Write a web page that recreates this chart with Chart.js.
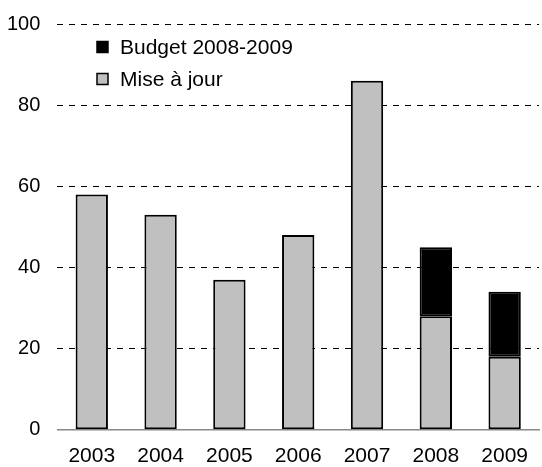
<!DOCTYPE html>
<html>
<head>
<meta charset="utf-8">
<script src="https://cdn.jsdelivr.net/npm/chart.js@4"></script>
<style>
  html, body { margin: 0; padding: 0; background: #fff; }
  #wrap { width: 542px; height: 467px; }
</style>
</head>
<body>
<div id="wrap"><canvas id="myChart" width="542" height="467"></canvas></div>
<script>
// donnees
var annees = ['2003', '2004', '2005', '2006', '2007', '2008', '2009'];
var miseAJour = [58, 53, 37, 48, 86, 28, 18];
var budget = [null, null, null, null, null, 17, 16];
var ticksY = [0, 20, 40, 60, 80, 100];

var police = '"Liberation Sans", Arial, sans-serif';

// legende dessinee dans la zone du graphique, en haut a gauche
var legendeInterne = {
    id: 'legendeInterne',
    afterDraw: function(chart){
        var ctx = chart.ctx;
        var ds = chart.data.datasets.slice().reverse();
        var x = 97;
        var y = 47;
        ctx.save();
        ctx.font = '21px ' + police;
        ctx.textBaseline = 'middle';
        ds.forEach(function(d, i){
            var yy = y + i * 32;
            ctx.fillStyle = d.backgroundColor;
            ctx.fillRect(x, yy - 5.5, 11, 11);
            ctx.strokeStyle = '#000';
            ctx.lineWidth = 1.5;
            ctx.strokeRect(x, yy - 5.5, 11, 11);
            ctx.fillStyle = '#000';
            ctx.fillText(d.label, x + 23, yy + 1);
        });
        ctx.restore();
    }
};

var ctx1 = document.getElementById('myChart').getContext('2d');
const myChart = new Chart(ctx1, {
    type: 'bar',
    data: {
        labels: annees,
        datasets: [{
            label: 'Mise à jour',
            data: miseAJour,
            backgroundColor: '#c0c0c0',
            borderColor: '#000',
            borderWidth: 2,
            borderSkipped: false
        }, {
            label: 'Budget 2008-2009',
            data: budget,
            backgroundColor: '#000',
            borderColor: '#000',
            borderWidth: 2,
            borderSkipped: false
        }]
    },
    options: {
        responsive: false,
        animation: false,
        barPercentage: 0.47,
        categoryPercentage: 1,
        layout: { padding: { top: 24, left: -10, right: -6, bottom: -16 } },
        plugins: {
            legend: { display: false },
            tooltip: { enabled: false }
        },
        scales: {
            x: {
                stacked: true,
                grid: { display: false, drawTicks: false },
                border: { display: true, color: '#888', width: 1.5 },
                ticks: { color: '#000', font: { family: police, size: 21 }, padding: 14, maxRotation: 0 }
            },
            y: {
                stacked: true,
                min: 0,
                max: 100,
                afterBuildTicks: function(axis){
                    axis.ticks = ticksY.map(function(v){ return { value: v }; });
                },
                afterFit: function(axis){
                    axis.paddingTop = 0;
                },
                grid: {
                    drawTicks: false,
                    color: function(c){ return c.tick.value === 0 ? 'rgba(0,0,0,0)' : '#000'; },
                    lineWidth: 1
                },
                border: { display: false, dash: [6, 6] },
                ticks: { color: '#000', font: { family: police, size: 20 }, padding: 17 }
            }
        }
    },
    plugins: [legendeInterne]
});
</script>
</body>
</html>
